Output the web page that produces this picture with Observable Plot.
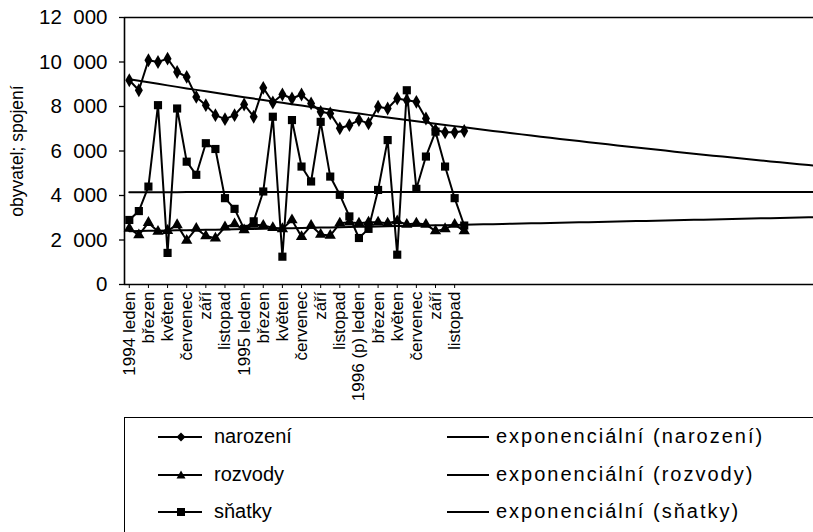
<!DOCTYPE html>
<html><head><meta charset="utf-8">
<script src="https://cdn.jsdelivr.net/npm/d3@7"></script>
<script src="https://cdn.jsdelivr.net/npm/@observablehq/plot@0.6"></script>
<style>
body{margin:0;background:#fff;font-family:"Liberation Sans",Arial,sans-serif;overflow:hidden}
#wrap{position:relative;width:813px;height:532px;overflow:hidden}
#legend{position:absolute;left:124px;top:417px;width:720px;height:140px;border:1.5px solid #000;box-sizing:border-box}
.li{position:absolute;font-size:20px;line-height:22px;color:#000;white-space:nowrap}
.lr{letter-spacing:2px}
.ls{position:absolute}
</style>
</head><body>
<div id="wrap"><div id="chart"></div><div id="legend"></div></div>
<script>
const categories = [
 "1994 leden","únor","březen","duben","květen","červen","červenec","srpen","září","říjen","listopad","prosinec",
 "1995 leden","únor","březen","duben","květen","červen","červenec","srpen","září","říjen","listopad","prosinec",
 "1996 (p) leden","únor","březen","duben","květen","červen","červenec","srpen","září","říjen","listopad","prosinec"
];
const narozeni = [9180,8730,10080,10000,10150,9550,9330,8430,8060,7610,7430,7610,
                  8090,7540,8840,8180,8540,8360,8540,8140,7760,7690,7020,7160,
                  7390,7240,7990,7910,8360,8280,8210,7460,6940,6840,6840,6900];
const rozvody  = [2520,2220,2780,2380,2420,2680,1980,2520,2180,2080,2580,2720,
                  2450,2700,2650,2550,2500,2900,2150,2650,2250,2200,2750,2800,
                  2750,2800,2800,2750,2850,2700,2750,2700,2400,2500,2700,2400];
const snatky   = [2900,3300,4400,8060,1420,7910,5520,4930,6350,6090,3880,3400,
                  2500,2840,4180,7540,1250,7390,5300,4630,7310,4850,4030,3060,
                  2090,2500,4250,6490,1340,8730,4300,5750,6870,5300,3880,2650];
const yTicks = [0,2000,4000,6000,8000,10000,12000];
const forecastPeriods = 36;
const seriesNames = ["narození","rozvody","sňatky"];
const trendNames = ["exponenciální (narození)","exponenciální (rozvody)","exponenciální (sňatky)"];

const seriesList = [
  {name: seriesNames[0], values: narozeni, symbol: "diamond", r: 4.2},
  {name: seriesNames[1], values: rozvody, symbol: "triangle", r: 4.2},
  {name: seriesNames[2], values: snatky, symbol: "square", r: 4.6}
];

// Excel-style exponential trendline: least squares on ln(y)
function expFit(values) {
  const n = values.length;
  const xs = values.map((_, i) => i);
  const ly = values.map(v => Math.log(v));
  const mx = d3.mean(xs), my = d3.mean(ly);
  let sxy = 0, sxx = 0;
  for (let i = 0; i < n; i++) { sxy += (xs[i]-mx)*(ly[i]-my); sxx += (xs[i]-mx)**2; }
  const b = sxy / sxx, a = my - b*mx;
  return x => Math.exp(a + b*x);
}

const rows = [], trendRows = [];
const xEnd = categories.length - 1 + forecastPeriods + 0.5;
for (const s of seriesList) {
  s.values.forEach((v, i) => rows.push({series: s.name, i, v}));
  const f = expFit(s.values);
  const xs = d3.range(0, xEnd, 1).concat([xEnd]);
  for (const x of xs) trendRows.push({series: s.name, x, v: f(x)});
}

const evenIdx = d3.range(0, categories.length, 2);
const fmt = d => d3.format(",")(d).replace(/,/g, "\u2007");

const chart = Plot.plot({
  width: 813, height: 418,
  marginLeft: 124, marginRight: 0, marginTop: 17, marginBottom: 134,
  x: {domain: [-0.5, xEnd]},
  y: {domain: [0, 12000]},
  style: {fontFamily: "Liberation Sans, Arial, sans-serif", color: "#000", background: "#fff"},
  marks: [
    Plot.axisY({ticks: yTicks, tickFormat: fmt, tickSize: 5, tickPadding: 12, fontSize: 20.5, label: null, strokeWidth: 1.3}),
    Plot.text(["obyvatel; spojení"], {frameAnchor: "left", textAnchor: "middle", dx: -107, rotate: -90, fontSize: 17.5, fill: "#000"}),
    Plot.axisX({ticks: evenIdx, tickFormat: i => categories[i], tickRotate: -90, tickSize: 4, tickPadding: 3, fontSize: 17, label: null}),
    Plot.ruleY([0, 12000], {stroke: "#000", strokeWidth: 1.6}),
    Plot.ruleX([-0.5], {stroke: "#000", strokeWidth: 1.6}),
    Plot.line(trendRows, {x: "x", y: "v", z: "series", stroke: "#000", strokeWidth: 2}),
    Plot.line(rows, {x: "i", y: "v", z: "series", stroke: "#000", strokeWidth: 2}),
    ...seriesList.map(s => Plot.dot(rows.filter(d => d.series === s.name), {x: "i", y: "v", symbol: () => s.symbol, r: s.r, fill: "#000", stroke: "none"}))
  ]
});
document.getElementById("chart").appendChild(chart);

// legend
const legend = document.getElementById("legend");
const rowY = [19, 57, 94];
const sym = {
  diamond: '<path d="M0,-4.5L4.5,0L0,4.5L-4.5,0Z" fill="#000"/>',
  triangle: '<path d="M0,-4.5L4.5,3.5L-4.5,3.5Z" fill="#000"/>',
  square: '<rect x="-4" y="-4" width="8" height="8" fill="#000"/>'
};
seriesList.forEach((s, k) => {
  const y = rowY[k];
  legend.insertAdjacentHTML("beforeend",
    `<svg class="ls" style="left:32px;top:${y-10}px" width="46" height="20"><line x1="1" y1="10" x2="45" y2="10" stroke="#000" stroke-width="2"/><g transform="translate(24,10)">${sym[s.symbol]}</g></svg>` +
    `<div class="li" style="left:89px;top:${y-12}px">${s.name}</div>` +
    `<svg class="ls" style="left:321px;top:${y-10}px" width="44" height="20"><line x1="1" y1="10" x2="43" y2="10" stroke="#000" stroke-width="2"/></svg>` +
    `<div class="li lr" style="left:371px;top:${y-12}px">${trendNames[k]}</div>`);
});
</script>
</body></html>
